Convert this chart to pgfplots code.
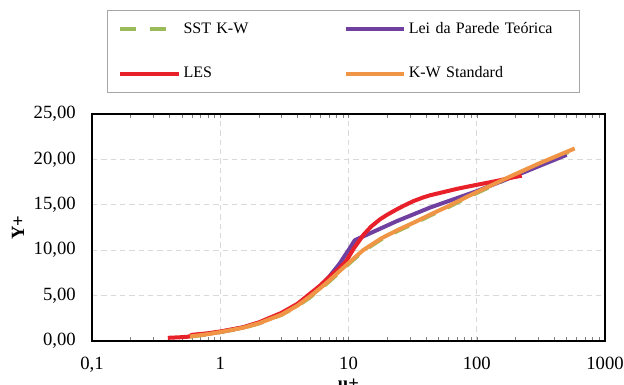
\documentclass[border=0pt]{standalone}
\usepackage{pgfplots}
\pgfplotsset{compat=1.18}
\usepackage{fontspec}
\setmainfont{Liberation Serif}
\definecolor{sstgreen}{HTML}{9BBB59}
\definecolor{leipurple}{HTML}{7040A0}
\definecolor{lesred}{HTML}{E8202A}
\definecolor{kworange}{HTML}{F09445}
\definecolor{gridgray}{HTML}{D9D9D9}
\begin{document}
\fontsize{12pt}{14pt}\selectfont
\begin{tikzpicture}
\begin{axis}[
  scale only axis, width=384.75pt, height=170.25pt,
  at={(0,0)}, anchor=south west,
  xmode=log, xmin=0.1, xmax=1000, ymin=0, ymax=25,
  xtick={0.1,1,10,100,1000}, xticklabels={{0,1},1,10,100,1000},
  ytick={0,5,10,15,20,25}, yticklabels={{0,00},{5,00},{10,00},{15,00},{20,00},{25,00}},
  minor xtick={}, major tick length=0pt,
  xmajorgrids, ymajorgrids,
  grid style={gridgray, line width=1pt, dash pattern=on 4pt off 3pt},
  axis line style={black, line width=1.4pt},
  tick label style={font=\fontsize{14pt}{16pt}\selectfont},
  xticklabel style={yshift=-8pt},
  yticklabel style={xshift=-8pt},
  xlabel={\textbf{u+}}, ylabel={\textbf{Y+}},
  label style={font=\fontsize{14pt}{16pt}\selectfont},
  xlabel style={at={(axis description cs:0.5,0)}, anchor=north, yshift=-28pt, inner sep=0pt},
  ylabel style={at={(axis description cs:-0.144,0.5)}, anchor=center},
  legend columns=2,
  legend cell align=left,
  legend style={at={(0.0292,1.458)}, anchor=north west, draw=gray!70, line width=0.8pt,
    inner xsep=8pt, inner ysep=7pt, row sep=19pt, column sep=0pt,
    nodes={text width=118pt, align=left, inner sep=2pt, font=\fontsize{12pt}{14pt}\selectfont}},
  legend image code/.code={\draw[#1] (0pt,0pt) -- (44pt,0pt);},
  every axis plot/.append style={line width=3pt, line join=round},
]
\addplot[sstgreen, dash pattern=on 12pt off 10pt] coordinates {
(0.58,0.48) (0.8,0.73) (1,0.97) (1.5,1.44) (2,1.93) (3,2.88) (4,3.85) (5,4.8) (7,6.5) (9,7.9) (13,9.9) (18,11.2) (24,12.1) (33,13.0) (43,13.8) (58,14.65) (74,15.4) (100,16.3) (181,18.0) (300,19.4) (580,21.1)};
\addlegendentry{SST K-W}
\addplot[leipurple] coordinates {
(0.6,0.6) (0.8,0.8) (1,1) (1.5,1.5) (2,2) (3,3) (4,4) (5,5) (6,6) (7,7) (8.5,8.5) (10,10) (11.2,11.1) (23.8,13.2) (43.3,14.7) (100,16.5) (200,18.2) (502,20.5)};
\addlegendentry{Lei da Parede Teórica}
\addplot[lesred] coordinates {
(0.39,0.35) (0.5,0.42) (0.57,0.48) (0.6,0.68) (0.8,0.85) (1,1.05) (1.5,1.5) (2,2.05) (3,3.1) (4,4.1) (5,5.2) (6,6.1) (7,7.0) (8.3,7.9) (9.6,8.8) (11,10.2) (13.1,11.7) (15,12.6) (17.6,13.4) (20,13.9) (23.8,14.5) (27,14.9) (32,15.4) (38,15.8) (43.3,16.05) (55,16.4) (69.8,16.75) (85,17.0) (100,17.2) (140,17.6) (181,17.95) (224,18.2)};
\addlegendentry{LES}
\addplot[kworange] coordinates {
(0.58,0.5) (0.8,0.75) (1,0.98) (1.5,1.45) (2,1.95) (3,2.9) (4,3.9) (5,4.9) (6,5.8) (7,6.6) (9,8.0) (11,9.1) (13,10.0) (18,11.3) (24,12.2) (33,13.1) (43,13.9) (58,14.75) (74,15.5) (100,16.4) (181,18.1) (300,19.5) (580,21.2)};
\addlegendentry{K-W Standard}
\end{axis}
\pgfresetboundingbox
\path[use as bounding box] (-69pt,-33pt) rectangle (399pt,255.75pt);
\end{tikzpicture}
\end{document}
